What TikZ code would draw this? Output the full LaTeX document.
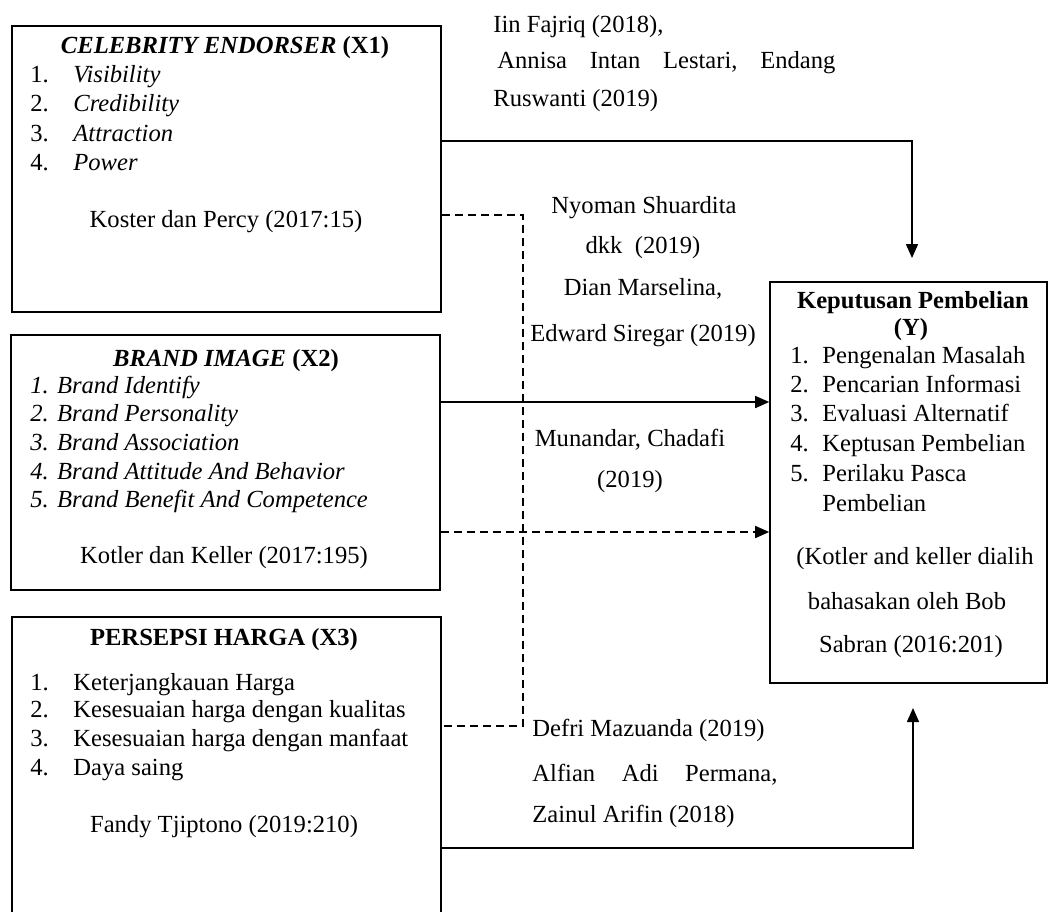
\documentclass[tikz,border=0pt]{standalone}
\usepackage{fontspec}
\setmainfont{Liberation Serif}
\usetikzlibrary{arrows.meta}
\tikzset{
  kotak/.style={draw, line width=0.8pt, inner sep=0pt},
  teks/.style={inner sep=0pt, anchor=west, text height=7pt, text depth=2pt},
  tengah/.style={inner sep=0pt, text height=7pt, text depth=2pt},
  garis/.style={line width=0.8pt},
  panah/.style={line width=0.8pt, -{Triangle[length=7pt,width=6pt]}},
  putus/.style={line width=0.8pt, dash pattern=on 4pt off 2.5pt},
}
\begin{document}
\begin{tikzpicture}[x=0.5pt, y=-0.5pt, font=\fontsize{12.3}{14}\selectfont]
\useasboundingbox (0,0) rectangle (1049,911);
% kotak variabel
\node[kotak, minimum width=214.5pt, minimum height=143pt] (celeb) at (226.5,169) {};
\node[kotak, minimum width=214.5pt, minimum height=127.5pt] (brand) at (225.5,462.5) {};
\node[kotak, minimum width=214.5pt, minimum height=161.5pt] (harga) at (226.5,778.5) {};
\node[kotak, minimum width=138.5pt, minimum height=200.5pt] (kep) at (908.5,482.5) {};
% X1
\node[tengah] (judul1) at (225,48) {\textbf{\textit{CELEBRITY ENDORSER} (X1)}};
\foreach \i/\t/\yy in {1/Visibility/77, 2/Credibility/106, 3/Attraction/136, 4/Power/165} {
  \node[teks] (n1\i) at (30,\yy) {\i.};
  \node[teks] (i1\i) at (73,\yy) {\textit{\t}};
}
\node[tengah] (sumber1) at (226,222) {Koster dan Percy (2017:15)};
% X2
\node[tengah] (judul2) at (226,361) {\textbf{\textit{BRAND IMAGE} (X2)}};
\foreach \i/\t/\yy in {1/Brand Identify/388, 2/Brand Personality/416, 3/Brand Association/445,
  4/Brand Attitude And Behavior/474, 5/Brand Benefit And Competence/502}
  \node[teks] (i2\i) at (30,\yy) {\textit{\i. \t}};
\node[tengah] (sumber2) at (224,558) {Kotler dan Keller (2017:195)};
% X3
\node[tengah] (judul3) at (224,640) {\textbf{PERSEPSI HARGA (X3)}};
\foreach \i/\t/\yy in {1/Keterjangkauan Harga/685, 2/Kesesuaian harga dengan kualitas/712,
  3/Kesesuaian harga dengan manfaat/741, 4/Daya saing/770} {
  \node[teks] (n3\i) at (30,\yy) {\i.};
  \node[teks] (i3\i) at (73,\yy) {\t};
}
\node[tengah] (sumber3) at (224,827) {Fandy Tjiptono (2019:210)};
% Y
\node[tengah] (judul4) at (913,303) {\textbf{Keputusan Pembelian}};
\node[tengah] (judul4b) at (911,330) {\textbf{(Y)}};
\foreach \i/\t/\yy in {1/Pengenalan Masalah/358, 2/Pencarian Informasi/387, 3/Evaluasi Alternatif/416,
  4/Keptusan Pembelian/446, 5/Perilaku Pasca/476} {
  \node[teks] (n4\i) at (790,\yy) {\i.};
  \node[teks] (i4\i) at (822,\yy) {\t};
}
\node[teks] (i45b) at (822,506) {Pembelian};
\node[tengah] (sumber4a) at (915,559) {(Kotler and keller dialih};
\node[tengah] (sumber4b) at (907,604) {bahasakan oleh Bob};
\node[tengah] (sumber4c) at (911,647) {Sabran (2016:201)};
% peneliti terdahulu
\node[teks] (r1a) at (493,27) {Iin Fajriq (2018),};
\node[teks] (r1b) at (497,63) {\makebox[169pt][s]{Annisa\hfill Intan\hfill Lestari,\hfill Endang}};
\node[teks] (r1c) at (493,101) {Ruswanti (2019)};
\node[tengah] (r2a) at (644,208) {Nyoman Shuardita};
\node[tengah] (r2b) at (643,248) {dkk\ \ (2019)};
\node[tengah] (r2c) at (643,290) {Dian Marselina,};
\node[tengah] (r2d) at (643,336) {Edward Siregar (2019)};
\node[tengah] (r3a) at (630,441) {Munandar, Chadafi};
\node[tengah] (r3b) at (630,482) {(2019)};
\node[teks] (r4a) at (532,731) {Defri Mazuanda (2019)};
\node[teks] (r4b) at (532,776) {\makebox[122.5pt][s]{Alfian\hfill Adi\hfill Permana,}};
\node[teks] (r4c) at (532,817) {Zainul Arifin (2018)};
% garis penghubung
\coordinate (t1) at (912,258);
\coordinate (t3) at (913,708);
\draw[panah] (celeb.east |- 0,141) -| (t1);
\draw[putus] (celeb.east |- 0,215) -- (523,215) -- (523,726) -- (harga.east |- 0,726);
\draw[panah] (brand.east |- 0,402) -- (kep.west |- 0,402);
\draw[panah, putus] (brand.east |- 0,532) -- (kep.west |- 0,532);
\draw[panah] (harga.east |- 0,848) -| (t3);
\end{tikzpicture}
\end{document}
